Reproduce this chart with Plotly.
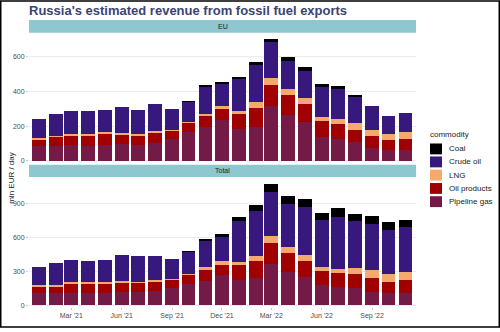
import pandas as pd
import plotly.graph_objects as go

# Months covered (bars are centred on the first day of each month)
months = pd.date_range("2021-01-01", "2022-11-01", freq="MS")

commodities = ["Pipeline gas", "Oil products", "LNG", "Crude oil", "Coal"]  # stack order, bottom first
colors = {
    "Coal": "#000000",
    "Crude oil": "#37197d",
    "LNG": "#f6a96c",
    "Oil products": "#a10000",
    "Pipeline gas": "#731a47",
}

# EU, mln EUR / day
eu_pipeline_gas = [85, 85, 91, 87, 91, 95, 91, 106, 127, 165, 193, 237, 182, 197, 317, 262, 222, 140, 127, 108, 76, 63, 63]
eu_oil_products = [38, 53, 57, 61, 66, 60, 57, 59, 47, 55, 71, 63, 89, 110, 119, 117, 104, 89, 87, 72, 66, 56, 66]
eu_lng = [8, 8, 6, 6, 8, 8, 6, 6, 6, 6, 7, 19, 19, 30, 42, 34, 36, 27, 27, 38, 38, 35, 36]
eu_crude_oil = [110, 125, 134, 132, 129, 146, 138, 155, 120, 117, 156, 127, 184, 215, 206, 165, 156, 171, 174, 152, 135, 104, 114]
eu_coal = [0, 0, 0, 0, 0, 0, 0, 0, 0, 2, 5, 11, 11, 17, 19, 21, 24, 17, 17, 5, 0, 0, 0]

# Total, mln EUR / day
total_pipeline_gas = [110, 104, 110, 104, 110, 116, 116, 124, 153, 188, 217, 263, 220, 240, 365, 292, 249, 174, 156, 150, 116, 104, 110]
total_oil_products = [52, 64, 81, 87, 81, 81, 81, 87, 73, 81, 101, 93, 136, 151, 185, 171, 142, 127, 128, 125, 124, 101, 116]
total_lng = [17, 14, 12, 12, 14, 20, 9, 9, 8, 9, 15, 35, 29, 43, 58, 52, 49, 35, 37, 52, 72, 73, 63]
total_crude_oil = [162, 188, 196, 188, 194, 226, 225, 217, 177, 194, 240, 211, 361, 399, 393, 376, 422, 416, 454, 419, 405, 387, 400]
total_coal = [0, 0, 0, 0, 0, 0, 0, 0, 0, 3, 8, 23, 29, 46, 69, 72, 72, 61, 78, 58, 73, 67, 66]

tick_dates = ["2021-03-01", "2021-06-01", "2021-09-01", "2021-12-01",
              "2022-03-01", "2022-06-01", "2022-09-01"]
tick_labels = ["Mar '21", "Jun '21", "Sep '21", "Dec '21", "Mar '22", "Jun '22", "Sep '22"]

eu_ticks = [0, 200, 400, 600]
total_ticks = [0, 300, 600, 900]

panels = {
    "EU": ("x", "y", {
        "Pipeline gas": eu_pipeline_gas, "Oil products": eu_oil_products,
        "LNG": eu_lng, "Crude oil": eu_crude_oil, "Coal": eu_coal}),
    "Total": ("x2", "y2", {
        "Pipeline gas": total_pipeline_gas, "Oil products": total_oil_products,
        "LNG": total_lng, "Crude oil": total_crude_oil, "Coal": total_coal}),
}

FONT = "Liberation Sans, Arial, Helvetica, sans-serif"
W, H = 500, 332
ML, MR, MT, MB = 29, 84, 20, 21
PW, PH = W - ML - MR, H - MT - MB


def px(p):
    return (p - ML) / PW


def py(p):
    return (H - MB - p) / PH


bar_width = 0.9 * 28 * 86400000  # ms

fig = go.Figure()
for region, (xa, ya, series) in panels.items():
    for c in commodities:
        fig.add_trace(go.Bar(
            x=months, y=series[c], name=c, xaxis=xa, yaxis=ya,
            width=bar_width, marker=dict(color=colors[c], line=dict(width=0)),
            showlegend=False,
        ))

x_range = ["2020-12-13 18:00", "2022-11-20 05:00"]
eu_dom = [py(164.5), py(33)]
tot_dom = [0, py(179.3)]
eu_strip = [py(33), 1.0]
tot_strip = [py(179.3), py(166.7)]

axis_font = dict(family=FONT, size=7, color="#4d4d4d")
ycommon = dict(showgrid=True, gridcolor="#ebebeb", gridwidth=0.8, zeroline=False,
               ticks="outside", ticklen=2, tickcolor="#c8c8c8", tickfont=axis_font,
               showline=False, fixedrange=True)

fig.update_layout(
    width=W, height=H,
    margin=dict(l=ML, r=MR, t=MT, b=MB),
    paper_bgcolor="white", plot_bgcolor="white",
    barmode="stack", bargap=0,
    showlegend=False,
    font=dict(family=FONT, color="#1a1a1a"),
    title=dict(text="Russia's estimated revenue from fossil fuel exports",
               x=ML / W, xref="container", xanchor="left",
               y=1 - 10 / H, yref="container", yanchor="middle",
               font=dict(family=FONT, size=13, color="#3c4470", weight=700)),
    xaxis=dict(type="date", range=x_range, anchor="y", domain=[0, 1],
               showticklabels=False, showgrid=False, zeroline=False, ticks=""),
    xaxis2=dict(type="date", range=x_range, anchor="y2", domain=[0, 1],
                tickvals=tick_dates, ticktext=tick_labels, tickfont=axis_font,
                showgrid=False, zeroline=False, ticks="outside", ticklen=2,
                tickcolor="#c8c8c8"),
    yaxis=dict(domain=eu_dom, range=[-10, 737], tickvals=eu_ticks, anchor="x", **ycommon),
    yaxis2=dict(domain=tot_dom, range=[-15, 1130], tickvals=total_ticks, anchor="x2", **ycommon),
)

shapes = []
annotations = []

# facet strips
for label, (y0, y1) in [("EU", eu_strip), ("Total", tot_strip)]:
    shapes.append(dict(type="rect", xref="paper", yref="paper", x0=0, x1=1, y0=y0, y1=y1,
                       fillcolor="#8dc7cf", line=dict(width=0), layer="below"))
    annotations.append(dict(text=label, xref="paper", yref="paper", x=0.5, y=(y0 + y1) / 2,
                            xanchor="center", yanchor="middle", showarrow=False,
                            font=dict(family=FONT, size=7, color="#1a1a1a")))

# y-axis title
annotations.append(dict(text="mln EUR / day", xref="paper", yref="paper", x=px(12), y=py(180),
                        xanchor="center", yanchor="middle", textangle=-90, showarrow=False,
                        font=dict(family=FONT, size=8, color="#1a1a1a")))

# legend
annotations.append(dict(text="commodity", xref="paper", yref="paper", x=px(428), y=py(136),
                        xanchor="left", yanchor="middle", showarrow=False,
                        font=dict(family=FONT, size=8, color="#1a1a1a")))
legend_y = [150.7, 163.9, 177.3, 190.8, 204.2]
for c, yc in zip(commodities[::-1], legend_y):
    shapes.append(dict(type="rect", xref="paper", yref="paper",
                       x0=px(430), x1=px(442), y0=py(yc + 5.5), y1=py(yc - 5.5),
                       fillcolor=colors[c], line=dict(width=0)))
    annotations.append(dict(text=c, xref="paper", yref="paper", x=px(447), y=py(yc),
                            xanchor="left", yanchor="middle", showarrow=False,
                            font=dict(family=FONT, size=8, color="#1a1a1a")))

# outer frame
shapes.append(dict(type="rect", xref="paper", yref="paper",
                   x0=px(0.75), x1=px(W - 0.75), y0=py(H - 0.75), y1=py(0.75),
                   line=dict(color="black", width=1.5), fillcolor="rgba(0,0,0,0)"))

fig.update_layout(shapes=shapes, annotations=annotations)
fig.write_html("out.html")
